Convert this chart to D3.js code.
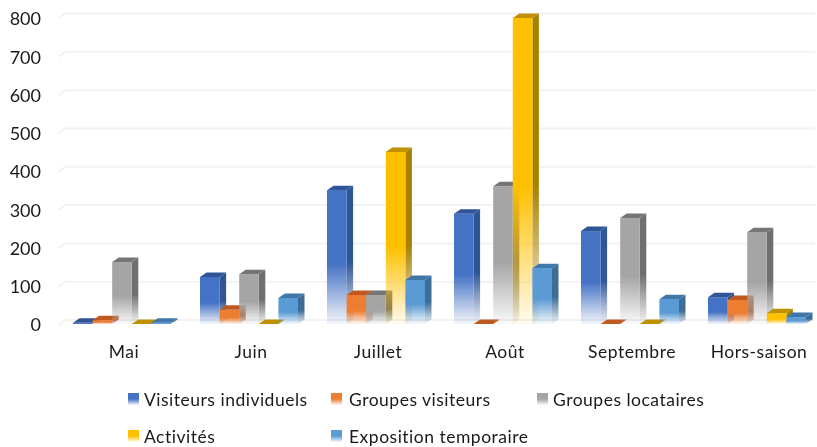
<!DOCTYPE html>
<html lang="fr">
<head>
<meta charset="UTF-8">
<title>Visiteurs par mois</title>
<script src="https://d3js.org/d3.v7.min.js"></script>
<style>
  html, body { margin: 0; padding: 0; background: #fff; overflow: hidden; }
  svg { display: block; filter: blur(0.5px); }
  text { font-family: Lato, "Open Sans", sans-serif; fill: #1a1a1a; }
</style>
</head>
<body>
<div id="chart"></div>
<script>
const categories = ["Mai", "Juin", "Juillet", "Août", "Septembre", "Hors-saison"];
const seriesNames = ["Visiteurs individuels", "Groupes visiteurs", "Groupes locataires", "Activités", "Exposition temporaire"];
const visiteurs = [3, 123, 350, 288, 243, 70];
const groupesVisiteurs = [10, 37, 76, 0, 0, 63];
const groupesLocataires = [162, 130, 76, 360, 277, 240];
const activites = [0, 0, 450, 800, 0, 28];
const exposition = [3, 68, 115, 146, 65, 18];
const tickValues = [0, 100, 200, 300, 400, 500, 600, 700, 800];

const seriesValues = [visiteurs, groupesVisiteurs, groupesLocataires, activites, exposition];
const frontColors = ["#4472c4", "#ed7d31", "#a5a5a5", "#ffc000", "#5b9bd5"];
const sideColors = ["#2f5597", "#b5663a", "#6f6f6f", "#a88000", "#3d6c96"];
const topColors = ["#2f5597", "#c0591f", "#757575", "#bf9000", "#3f77a8"];

const w = 817;
const h = 447;
const depthX = 6.5;
const depthY = 4.5;

const svg = d3.select("#chart").append("svg").attr("width", w).attr("height", h);
const defs = svg.append("defs");

// fade to white in the lower half of each face
function addFade(id, color, start) {
  const g = defs.append("linearGradient").attr("id", id)
    .attr("x1", 0).attr("y1", 0).attr("x2", 0).attr("y2", 1);
  g.append("stop").attr("offset", start).attr("stop-color", color);
  g.append("stop").attr("offset", 1).attr("stop-color", color).attr("stop-opacity", 0.06);
}
frontColors.forEach((c, i) => addFade("front" + i, c, 0.55));
sideColors.forEach((c, i) => addFade("side" + i, c, 0.55));
frontColors.forEach((c, i) => addFade("key" + i, c, 0.5));

const xGroup = d3.scaleBand().domain(categories).range([58.5, 820.5]).paddingInner(0).paddingOuter(0);
const xBar = d3.scaleBand().domain(d3.range(5)).range([14.5, 112.5]);
const yFront = d3.scaleLinear().domain([0, 800]).range([324, 18]);
const yBack = d3.scaleLinear().domain([0, 800]).range([320, 13.5]);

// gridlines on the back wall with the small bend at the left
const grid = svg.append("g");
grid.selectAll("path").data(tickValues).enter().append("path")
  .attr("fill", "none")
  .attr("stroke", "#f2f2f2")
  .attr("stroke-width", 2)
  .attr("d", d => `M59,${yBack(d) + 5}L65,${yBack(d)}L815,${yBack(d)}`);

const yAxis = d3.axisLeft(yFront).tickValues(tickValues).tickSize(0).tickPadding(0);
const yG = svg.append("g").attr("transform", "translate(41,1)").call(yAxis);
yG.select(".domain").remove();
yG.selectAll("text").style("font-size", "18px").style("font-family", "Lato");

const xAxis = d3.axisBottom(xGroup).tickSize(0).tickPadding(0);
const xG = svg.append("g").attr("transform", "translate(2,346)").call(xAxis);
xG.select(".domain").remove();
xG.selectAll("text").style("font-size", "17.5px").style("font-family", "Lato").style("letter-spacing", "0.5px");

const bars = svg.append("g");
categories.forEach((cat, c) => {
  seriesValues.forEach((vals, s) => {
    const v = vals[c];
    const x0 = xGroup(cat) + xBar(s);
    const x1 = x0 + xBar.bandwidth();
    const yt = yFront(v);
    const yb = yFront(0);
    const g = bars.append("g");
    if (v > 0) {
      g.append("path")
        .attr("d", `M${x1},${yt}L${x1 + depthX},${yt - depthY}L${x1 + depthX},${yb - depthY}L${x1},${yb}Z`)
        .attr("fill", `url(#side${s})`);
      g.append("rect").attr("x", x0).attr("y", yt)
        .attr("width", x1 - x0).attr("height", yb - yt)
        .attr("fill", `url(#front${s})`);
    }
    g.append("path")
      .attr("d", `M${x0},${yt}L${x0 + depthX},${yt - depthY}L${x1 + depthX},${yt - depthY}L${x1},${yt}Z`)
      .attr("fill", topColors[s]);
  });
});

// legend
const keyX = [128, 331, 537, 128, 331];
const keyY = [393, 393, 393, 430, 430];
const textX = [144, 349, 553, 144, 349];
const legend = svg.append("g");
seriesNames.forEach((name, i) => {
  legend.append("rect").attr("x", keyX[i]).attr("y", keyY[i])
    .attr("width", 11).attr("height", 12).attr("fill", `url(#key${i})`);
  legend.append("text").attr("x", textX[i]).attr("y", keyY[i] + 13)
    .style("font-size", "17.5px").style("letter-spacing", "0.5px").text(name);
});
</script>
</body>
</html>
